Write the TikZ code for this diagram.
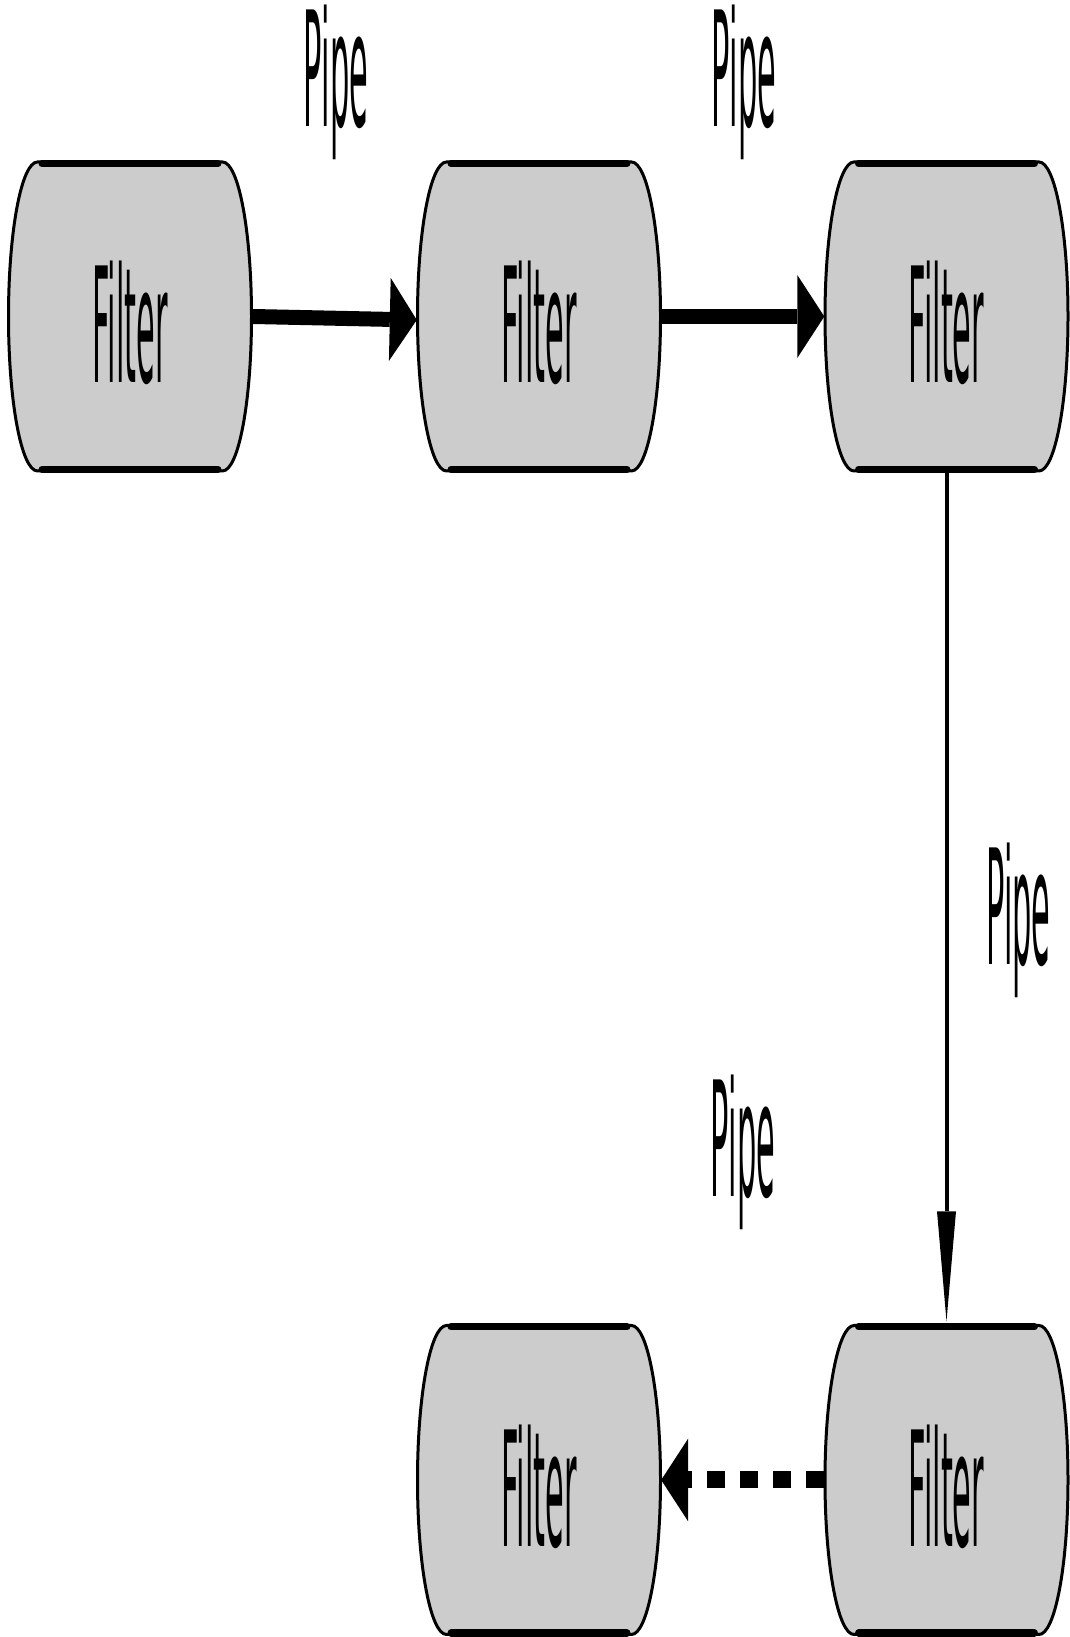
\documentclass[tikz,border=0pt]{standalone}
\usepackage{fontspec}
\newfontfamily\narrowsans[FakeStretch=0.19]{DejaVu Sans}
\usepackage{tikz}
\usetikzlibrary{arrows.meta}
\usetikzlibrary{positioning}
\definecolor{filtergray}{RGB}{204,204,204}

\tikzset{
  filterbox/.style={minimum width=244pt, minimum height=309pt, inner sep=0pt,
    text height=133pt, text depth=0pt, font=\narrowsans\fontsize{160}{160}\selectfont},
  pipelabel/.style={anchor=base, inner sep=0pt, font=\narrowsans\fontsize{160}{160}\selectfont},
  pipe/.style={line width=15pt, -{Triangle[length=27pt,width=83pt,line width=0pt]}}
}

\begin{document}
\begin{tikzpicture}[x=1pt, y=1pt]
\useasboundingbox (0,0) rectangle (1069,1637);

% Filter bodies
\foreach \n/\x/\y in {f1/130/1320.5, f2/539/1320.5, f3/946.5/1320.5, f4/539/157, f5/946.5/157}
{
  \filldraw[line width=3pt, fill=filtergray]
    (\x-92.5,\y+154.5) arc[start angle=90, end angle=270, x radius=29pt, y radius=154.5pt]
    -- (\x+92.5,\y-154.5) arc[start angle=-90, end angle=90, x radius=29pt, y radius=154.5pt]
    -- cycle;
  \draw[line width=7pt, line cap=round] (\x-88,\y+153) -- (\x+88,\y+153);
  \draw[line width=7pt, line cap=round] (\x-88,\y-153) -- (\x+88,\y-153);
  \node[filterbox] (\n) at (\x,\y) {Filter};
}

% Pipes
\draw[pipe] (f1.east) -- ([yshift=-3.5pt]f2.west);
\draw[pipe] (f2.east) -- (f3.west);
\draw[line width=4pt, -{Triangle[length=110pt,width=19pt,line width=0pt]}] (f3.south) -- ([yshift=4pt]f5.north);
\draw[pipe, line width=17pt, dash pattern=on 18pt off 15pt] (f5.west) -- (f4.east);

% Pipe labels
\node[pipelabel] (p12) at (336,1510) {Pipe};
\node[pipelabel] (p23) at (744,1510) {Pipe};
\node[pipelabel] (p35) at (1018.5,672) {Pipe};
\node[pipelabel] (p54) at (743,440) {Pipe};

\end{tikzpicture}
\end{document}
